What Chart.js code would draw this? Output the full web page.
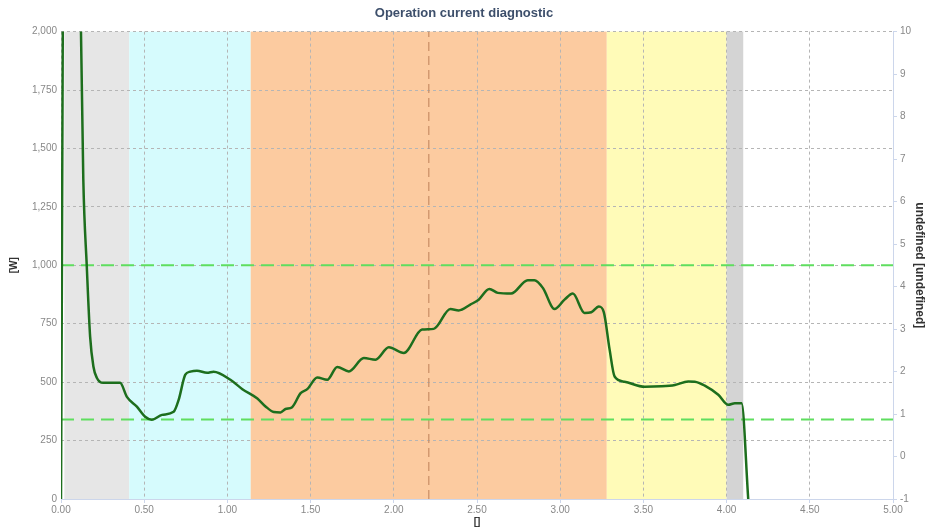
<!DOCTYPE html>
<html>
<head>
<meta charset="utf-8">
<script src="https://cdn.jsdelivr.net/npm/chart.js@4.4.0/dist/chart.umd.min.js"></script>
<style>
  html, body { margin: 0; padding: 0; background: #fff; }
  #wrap { width: 928px; height: 530px; }
</style>
</head>
<body>
<div id="wrap"><canvas id="myChart" width="928" height="530"></canvas></div>
<script>
// curve (x in [], y in W)
const timeValues = [0.000, 0.050, 0.120, 0.134, 0.155, 0.175, 0.195, 0.215, 0.253, 0.305, 0.355, 0.396, 0.456, 0.506, 0.546,
  0.607, 0.677, 0.707, 0.747, 0.777, 0.817, 0.878, 0.917, 1.018, 1.090, 1.180, 1.229, 1.279, 1.319, 1.349, 1.389,
  1.440, 1.480, 1.540, 1.600, 1.660, 1.730, 1.820, 1.890, 1.970, 2.060, 2.170, 2.240, 2.340, 2.390, 2.460, 2.510,
  2.574, 2.625, 2.705, 2.805, 2.845, 2.896, 2.966, 3.026, 3.076, 3.146, 3.187, 3.232, 3.262, 3.297, 3.327, 3.387,
  3.508, 3.608, 3.689, 3.769, 3.809, 3.869, 3.950, 4.010, 4.050, 4.090, 4.130];
const powerValues = [0, 8000, 2000, 1368, 995, 695, 566, 519, 497, 497, 497, 437, 395, 352, 339,
  360, 373, 424, 532, 545, 549, 540, 545, 510, 470, 430, 396, 372, 370, 385, 393,
  453, 470, 520, 510, 565, 546, 603, 596, 649, 625, 725, 728, 813, 807, 832, 853,
  899, 882, 879, 936, 936, 903, 813, 853, 879, 796, 799, 824, 800, 639, 524, 502,
  480, 482, 488, 503, 502, 485, 446, 403, 410, 410, 0];

const limitValues = [1000, 340];     // green dashed limits
const markerTime = 2.21;             // vertical dashed marker
const phaseStarts = [0.02, 0.41, 1.14, 3.28, 4.00];
const phaseEnds   = [0.41, 1.14, 3.28, 4.00, 4.10];
const phaseColors = ['#e6e6e6', '#d6fbfd', '#fccba0', '#fffbb8', '#d4d4d4'];

const xTicks = [0, 0.5, 1, 1.5, 2, 2.5, 3, 3.5, 4, 4.5, 5];

const phaseBands = {
    id: 'phaseBands',
    beforeDraw(chart) {
        const ctx = chart.ctx;
        const x = chart.scales.x;
        const area = chart.chartArea;
        ctx.save();
        for (let i = 0; i < phaseStarts.length; i++) {
            const x1 = x.getPixelForValue(phaseStarts[i]);
            const x2 = x.getPixelForValue(phaseEnds[i]);
            ctx.fillStyle = phaseColors[i];
            ctx.fillRect(x1, area.top, x2 - x1, area.bottom - area.top);
        }
        ctx.restore();
    }
};

const curve = timeValues.map((t, i) => ({ x: t, y: powerValues[i] }));

const datasets = [{
    label: 'Power',
    data: curve,
    borderColor: '#1d6e1d',
    borderWidth: 2.5,
    pointRadius: 0,
    cubicInterpolationMode: 'monotone',
    order: 0
}];
limitValues.forEach(v => {
    datasets.push({
        label: 'limit',
        data: [{ x: 0, y: v }, { x: 5, y: v }],
        borderColor: '#5fde5f',
        borderWidth: 2,
        borderDash: [13, 7],
        pointRadius: 0,
        order: 1
    });
});
datasets.push({
    label: 'marker',
    data: [{ x: markerTime, y: 0 }, { x: markerTime, y: 2000 }],
    borderColor: 'rgba(200,140,100,0.8)',
    borderWidth: 1.5,
    borderDash: [9, 5],
    pointRadius: 0,
    order: 2
});

const tickFont = { family: 'Liberation Sans, Arial, sans-serif', size: 10 };
const axisFont = { family: 'Liberation Sans, Arial, sans-serif', size: 10, weight: 'bold' };

const ctx = document.getElementById('myChart').getContext('2d');
const myChart = new Chart(ctx, {
    type: 'line',
    data: { datasets: datasets },
    plugins: [phaseBands],
    options: {
        responsive: false,
        maintainAspectRatio: false,
        animation: false,
        layout: { padding: 0 },
        plugins: {
            legend: { display: false },
            tooltip: { enabled: false },
            title: {
                display: true,
                text: 'Operation current diagnostic',
                color: '#3d4f6b',
                font: { family: 'Liberation Sans, Arial, sans-serif', size: 13, weight: 'bold' },
                padding: { top: 6, bottom: 10 }
            }
        },
        scales: {
            x: {
                type: 'linear',
                min: 0,
                max: 5,
                afterBuildTicks: (scale) => { scale.ticks = xTicks.map(v => ({ value: v })); },
                afterFit: (scale) => { scale.height = 31; },
                ticks: {
                    color: '#888',
                    font: tickFont,
                    padding: 1,
                    maxRotation: 0,
                    callback: (v) => Number(v).toFixed(2)
                },
                grid: { color: '#b5b5b5', tickLength: 4, tickColor: '#ccd6eb' },
                border: { display: true, color: '#ccd6eb', dash: [3, 3] },
                title: { display: true, text: '[]', color: '#333', font: axisFont, padding: { top: 3, bottom: 2 } }
            },
            y: {
                position: 'left',
                min: 0,
                max: 2000,
                ticks: { stepSize: 250, color: '#888', font: tickFont, padding: 4 },
                afterFit: (scale) => { scale.width = 61; },
                grid: { color: '#b5b5b5', drawTicks: false },
                border: { display: false, dash: [3, 3] },
                title: { display: true, text: '[W]', color: '#333', font: axisFont, padding: { top: 8, bottom: 4 } }
            },
            y2: {
                position: 'right',
                min: -1,
                max: 10,
                ticks: { stepSize: 1, color: '#888', font: tickFont, padding: 3 },
                afterFit: (scale) => { scale.width = 35; },
                grid: { drawOnChartArea: false, tickLength: 4, color: '#ccd6eb' },
                border: { display: true, color: '#ccd6eb' },
                title: { display: true, text: 'undefined [undefined]', color: '#333', font: { family: 'Liberation Sans, Arial, sans-serif', size: 12, weight: 'bold' }, padding: { top: 1, bottom: 2 } }
            }
        }
    }
});
</script>
</body>
</html>
